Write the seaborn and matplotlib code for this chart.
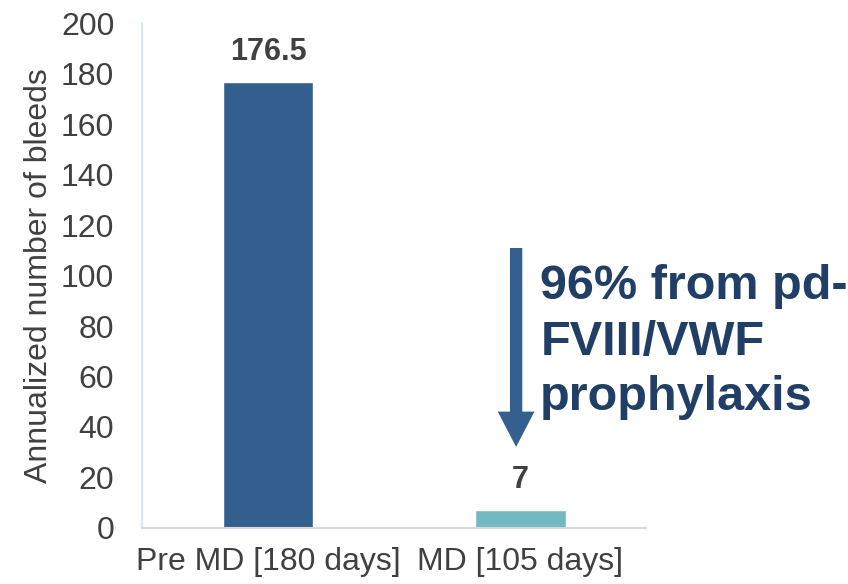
import matplotlib
matplotlib.use("Agg")
import matplotlib.pyplot as plt
import seaborn as sns
import pandas as pd

# Annualized bleeds before and during the maintenance dose period
categories = ["Pre MD [180 days]", "MD [105 days]"]
bleeds = [176.5, 7]
bar_labels = ["176.5", "7"]
bar_colors = ["#335F8E", "#74B8C0"]
y_ticks = [0, 20, 40, 60, 80, 100, 120, 140, 160, 180, 200]
note = "96% from pd-\nFVIII/VWF\nprophylaxis"

sns.set_theme(style="white")
plt.rcParams["font.family"] = ["Liberation Sans", "DejaVu Sans"]

df = pd.DataFrame({"period": categories, "bleeds": bleeds})

fig = plt.figure(figsize=(8.48, 5.84), dpi=100)
ax = fig.add_axes([0.1675, 0.0959, 0.5945, 0.8647])

sns.barplot(data=df, x="period", y="bleeds", hue="period",
            palette=bar_colors, width=0.36, legend=False, ax=ax,
            saturation=1)

for cont, lab in zip(ax.containers, bar_labels):
    ax.bar_label(cont, labels=[lab], padding=11, fontsize=22,
                 fontweight="bold", color="#404040")

ax.set_ylim(0, 200)
ax.set_xlim(-0.5, 1.5)
ax.set_yticks(y_ticks)
ax.tick_params(axis="y", labelsize=23, colors="#404040", length=0, pad=20)
ax.tick_params(axis="x", labelsize=23, colors="#404040", length=0, pad=14)
ax.set_xlabel("")
ax.set_ylabel("Annualized number of bleeds", fontsize=23, color="#404040",
              labelpad=5)

for side in ["top", "right"]:
    ax.spines[side].set_visible(False)
ax.spines["left"].set_color("#D6EAF0")
ax.spines["left"].set_linewidth(1.5)
ax.spines["bottom"].set_color("#D9D9D9")
ax.spines["bottom"].set_linewidth(1.5)

# Reduction arrow and its note
ax.annotate("", xy=(0.984, 31), xytext=(0.984, 112),
            arrowprops=dict(arrowstyle="simple,head_length=1.06,head_width=1.1,tail_width=0.37",
                            color="#355F8E", lw=0, mutation_scale=24),
            annotation_clip=False)
ax.text(1.08, 104.5, note, fontsize=35, fontweight="bold", color="#213F66",
        ha="left", va="top", linespacing=1.3, clip_on=False)

fig.savefig("out.png", dpi=100)
